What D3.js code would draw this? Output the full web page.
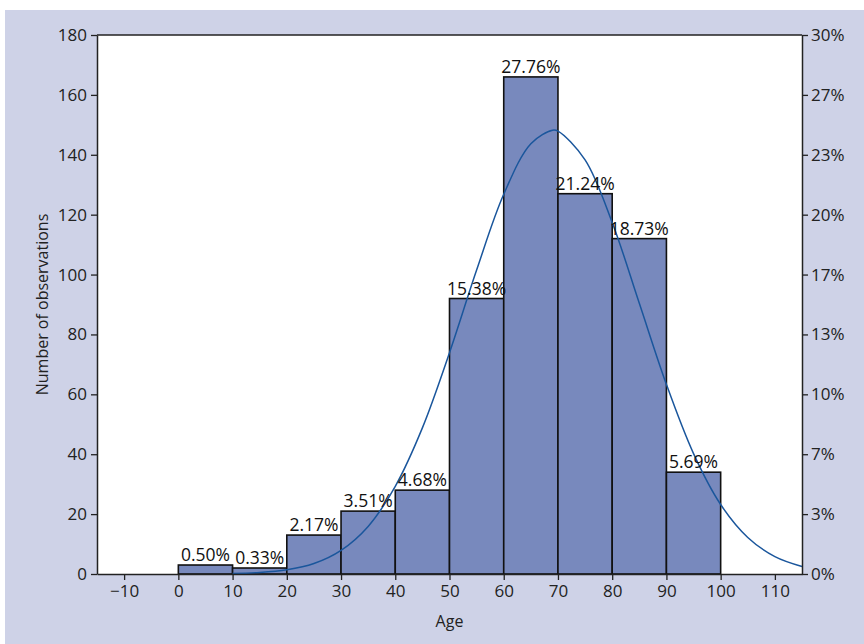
<!DOCTYPE html>
<html>
<head>
<meta charset="utf-8">
<script src="https://cdn.jsdelivr.net/npm/d3@7"></script>
<style>
  html, body { margin: 0; padding: 0; background: #ffffff; }
  svg { display: block; font-family: "Open Sans", sans-serif; }
</style>
</head>
<body>
<svg id="chart" width="864" height="644"></svg>
<script>
// ---- data ----
const binStarts = [0, 10, 20, 30, 40, 50, 60, 70, 80, 90];
const binWidth = 10;
const counts = [3, 2, 13, 21, 28, 92, 166, 127, 112, 34];
const percentLabels = ["0.50%", "0.33%", "2.17%", "3.51%", "4.68%", "15.38%", "27.76%", "21.24%", "18.73%", "5.69%"];
const leftTicks = [0, 20, 40, 60, 80, 100, 120, 140, 160, 180];
const rightTickLabels = ["0%", "3%", "7%", "10%", "13%", "17%", "20%", "23%", "27%", "30%"];
const xTicks = [-10, 0, 10, 20, 30, 40, 50, 60, 70, 80, 90, 100, 110];
// fitted normal curve (age, count)
const curveAges   = [10, 15, 20, 25, 30, 35, 40, 45, 50, 55, 60, 65, 69, 70, 75, 80, 85, 90, 95, 100, 105, 110, 115];
const curveCounts = [0.2, 0.5, 1.4, 3.5, 7.9, 15.9, 29.3, 48.8, 73.9, 101.5, 126.8, 143.7, 148.2, 147.9, 138.3, 117.4, 90.4, 63.3, 40.2, 23.2, 12.2, 5.8, 2.5];

// ---- layout ----
const W = 864, H = 644;
const m = { left: 97, right: 62, top: 35, bottom: 70 };
const pw = W - m.left - m.right, ph = H - m.top - m.bottom;

const svg = d3.select("#chart");
svg.append("rect").attr("x", 5).attr("y", 10).attr("width", W - 5).attr("height", H - 10).attr("fill", "#ced2e7");

const g = svg.append("g").attr("transform", `translate(${m.left},${m.top})`);
g.append("rect").attr("width", pw).attr("height", ph).attr("fill", "#ffffff");

const x = d3.scaleLinear().domain([-15, 115]).range([0, pw]);
const y = d3.scaleLinear().domain([0, 180]).range([ph, 0]);

// bars
g.selectAll("rect.bar").data(binStarts).join("rect")
  .attr("class", "bar")
  .attr("x", (d) => x(d))
  .attr("width", (d) => x(d + binWidth) - x(d))
  .attr("y", (d, i) => y(counts[i]))
  .attr("height", (d, i) => y(0) - y(counts[i]))
  .attr("fill", "#7889bd")
  .attr("stroke", "#111")
  .attr("stroke-width", 1.6);

// curve
const pts = curveAges.map((a, i) => [a, curveCounts[i]]);
g.append("path").datum(pts)
  .attr("fill", "none")
  .attr("stroke", "#1a569c")
  .attr("stroke-width", 1.5)
  .attr("d", d3.line().x((d) => x(d[0])).y((d) => y(d[1])).curve(d3.curveCatmullRom));

// percent labels
g.selectAll("text.pl").data(binStarts).join("text")
  .attr("class", "pl")
  .attr("x", (d) => x(d + binWidth / 2))
  .attr("y", (d, i) => y(counts[i]) - 4)
  .attr("text-anchor", "middle")
  .attr("font-size", 17.5)
  .attr("fill", "#111")
  .text((d, i) => percentLabels[i]);

// top border
g.append("line").attr("x1", 0).attr("x2", pw).attr("y1", 0).attr("y2", 0)
  .attr("stroke", "#222").attr("stroke-width", 1.5);

function styleAxis(sel) {
  sel.select(".domain").attr("stroke", "#222").attr("stroke-width", 1.5);
  sel.selectAll(".tick line").attr("stroke", "#222").attr("stroke-width", 1.3);
  sel.selectAll(".tick text").attr("fill", "#222").attr("font-size", 17).attr("font-family", "Open Sans, sans-serif");
}

g.append("g")
  .call(d3.axisLeft(y).tickValues(leftTicks).tickSize(6).tickSizeOuter(0).tickPadding(4))
  .call(styleAxis);

const yr = d3.scaleLinear().domain([0, leftTicks.length - 1]).range([ph, 0]);
g.append("g").attr("transform", `translate(${pw},0)`)
  .call(d3.axisRight(yr).tickValues(d3.range(rightTickLabels.length)).tickFormat((d) => rightTickLabels[d]).tickSize(6).tickSizeOuter(0).tickPadding(3))
  .call(styleAxis);

g.append("g").attr("transform", `translate(0,${ph})`)
  .call(d3.axisBottom(x).tickValues(xTicks).tickSize(6).tickSizeOuter(0).tickPadding(5))
  .call(styleAxis);

// axis titles
svg.append("text")
  .attr("x", m.left + x(50) - 0).attr("y", 627)
  .attr("text-anchor", "middle").attr("font-size", 16).attr("fill", "#222")
  .text("Age");
svg.append("text")
  .attr("transform", `translate(48,${m.top + ph / 2}) rotate(-90)`)
  .attr("text-anchor", "middle").attr("font-size", 16).attr("fill", "#222")
  .text("Number of observations");
</script>
</body>
</html>
